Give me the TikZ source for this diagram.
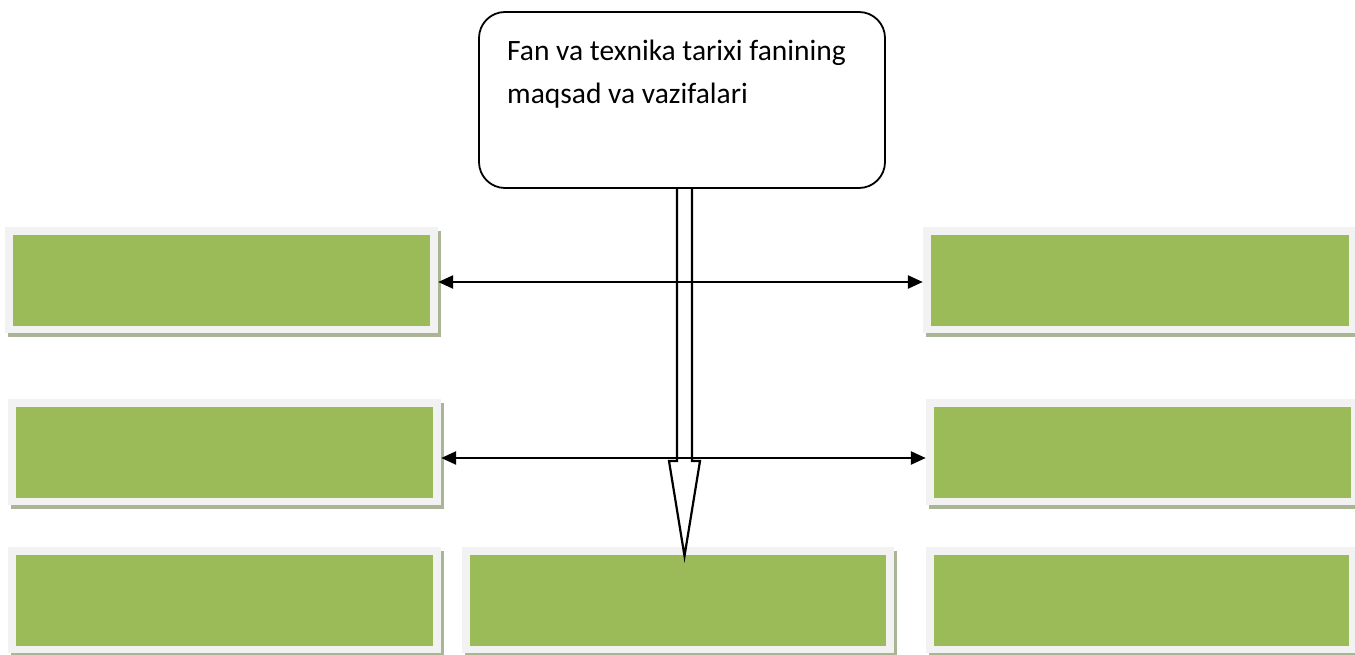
\documentclass[tikz,border=0pt]{standalone}
\usepackage{fontspec}
\setmainfont{Carlito}
\usetikzlibrary{arrows.meta}
\definecolor{frameg}{RGB}{242,242,242}
\definecolor{leaf}{RGB}{155,187,89}
\definecolor{shadowgg}{RGB}{170,181,150}
\tikzset{
  gframe/.style={fill=frameg, draw=none, inner sep=0pt, rectangle},
  topbox/.style={draw=black, line width=1.8pt, rounded corners=26pt, fill=white, inner sep=0pt},
  biarrow/.style={line width=2.5pt, {Triangle[length=15pt,width=13pt]}-{Triangle[length=15pt,width=13pt]}},
  blockarrow/.style={draw=black, line width=2.2pt, line join=miter, fill=none},
  labeltext/.style={font=\fontsize{29.5pt}{38pt}\selectfont, align=left, inner sep=0pt, anchor=base west}
}
% name, x1, y1, x2, y2 (outer frame, pixel coords, y downward)
\newcommand\greenbox[5]{%
  \fill[shadowgg] (#2+3,#3+4) rectangle (#4+3,#5+4);
  \node[gframe, minimum width={(#4-#2)*1pt}, minimum height={(#5-#3)*1pt}] (#1) at ({(#2+#4)/2},{(#3+#5)/2}) {};
  \fill[leaf] (#2+8,#3+8) rectangle (#4-8,#5-7);
}
\begin{document}
\begin{tikzpicture}[x=1pt,y=-1pt]
\useasboundingbox (0,0) rectangle (1355,655);

\node[topbox, minimum width=406pt, minimum height=176pt] (top) at (682,100) {};
\node[labeltext] (toptext) at (507,104) {Fan va texnika tarixi fanining\\[5pt]maqsad va vazifalari};

\greenbox{A}{5}{227}{438}{333}
\greenbox{B}{923}{227}{1357}{333}
\greenbox{C}{8}{399}{441}{505}
\greenbox{D}{926}{399}{1359}{505}
\greenbox{E}{8}{547}{441}{653}
\greenbox{F}{462}{547}{894}{653}
\greenbox{G}{926}{547}{1357}{653}

% block arrow from top box to bottom-centre box
\coordinate (bs) at (684.5,188);
\coordinate (bt) at (684.5,556);
\draw[blockarrow] ([xshift=-7.5pt]bs) -- (677,461) -- (669,461) -- (bt) -- (700,461) -- (692,461) -- ([xshift=7.5pt]bs);

\draw[biarrow] ([yshift=-2pt]A.east) -- ([yshift=-2pt]B.west);
\draw[biarrow] ([yshift=-6pt]C.east) -- ([yshift=-6pt]D.west);
\end{tikzpicture}
\end{document}
